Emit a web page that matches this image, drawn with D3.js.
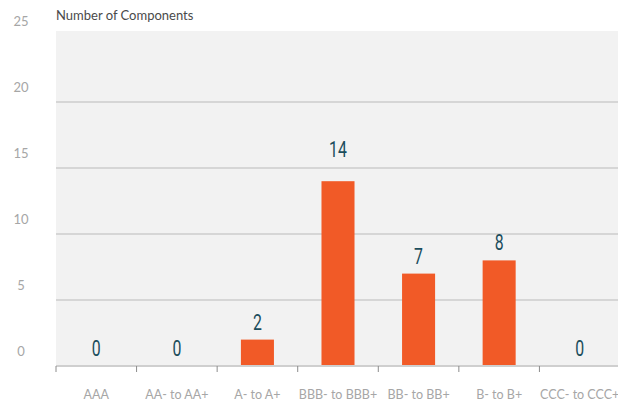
<!DOCTYPE html>
<html>
<head>
<meta charset="utf-8">
<script src="https://cdn.jsdelivr.net/npm/d3@7"></script>
<style>
    body { margin: 0; background: #fff; }
    .yLabel { font-family: Lato, "Open Sans", sans-serif; font-size: 13px; fill: #a6a6a6; }
    .xLabel { font-family: Lato, "Open Sans", sans-serif; font-size: 12.5px; fill: #a6a6a6; }
    .title { font-family: Lato, "Open Sans", sans-serif; font-size: 13px; fill: #4a4a4a; }
    .valueLabel { font-family: Roboto, "Liberation Sans", sans-serif; font-weight: 400; font-size: 22px; fill: #1b4d5c; }
</style>
</head>
<body>
<script>
//chart data
var categories = ["AAA", "AA- to AA+", "A- to A+", "BBB- to BBB+", "BB- to BB+", "B- to B+", "CCC- to CCC+"];
var counts = [0, 0, 2, 14, 7, 8, 0];
var yTicks = [0, 5, 10, 15, 20, 25];

window.onload = drawChart();

function drawChart(){
    var width = 618,
        height = 402;

    var margin = {top: 31, right: -2, bottom: 35, left: 56};

    var svg = d3.select("body")
        .append("svg")
        .attr("width", width)
        .attr("height", height);

    //scales
    var x = d3.scaleBand()
        .domain(categories)
        .range([margin.left, width - margin.right])
        .paddingInner(0.59)
        .paddingOuter(0.295);

    var y = d3.scaleLinear()
        .domain([0, 25])
        .range([height - margin.bottom - 1, 36]);

    //plot background
    svg.append("rect")
        .attr("x", margin.left)
        .attr("y", margin.top)
        .attr("width", width - margin.left)
        .attr("height", y(0) - margin.top)
        .attr("fill", "#f2f2f2");

    //gridlines (skip the top one, plot ends above it)
    var gridVals = yTicks.filter(function(d){ return d > 0 && d < 25; });
    svg.selectAll(".grid")
        .data(gridVals)
        .enter()
        .append("line")
        .attr("class", "grid")
        .attr("x1", margin.left)
        .attr("x2", width)
        .attr("y1", function(d){ return y(d); })
        .attr("y2", function(d){ return y(d); })
        .attr("stroke", "#d6d6d6")
        .attr("stroke-width", 2);

    //y tick labels sit above their lines
    svg.selectAll(".yLabel")
        .data(yTicks)
        .enter()
        .append("text")
        .attr("class", "yLabel")
        .attr("x", 21)
        .attr("y", function(d){ return y(d) - 10; })
        .attr("text-anchor", "middle")
        .text(function(d){ return d; });

    //bars (zero values still show a thin line)
    svg.selectAll(".bar")
        .data(counts)
        .enter()
        .append("rect")
        .attr("class", "bar")
        .attr("x", function(d, i){ return x(categories[i]); })
        .attr("width", x.bandwidth())
        .attr("y", function(d){ return d > 0 ? y(d) : y(0) - 1; })
        .attr("height", function(d){ return d > 0 ? y(0) - y(d) : 1; })
        .attr("fill", "#f15a27")
        .attr("opacity", function(d){ return d > 0 ? 1 : 0.6; });

    //value labels, pushed above a gridline if they would cross it
    function labelY(d){
        var base = y(d) - 10,
            top = base - 14;
        gridVals.forEach(function(g){
            var gy = y(g);
            if (gy > top && gy < base) base = gy - 11;
        });
        return base;
    };

    //condensed look: squeeze the glyphs horizontally
    svg.selectAll(".valueLabel")
        .data(counts)
        .enter()
        .append("text")
        .attr("class", "valueLabel")
        .attr("transform", function(d, i){
            return "translate(" + (x(categories[i]) + x.bandwidth() / 2) + "," + labelY(d) + ") scale(0.72,1)";
        })
        .attr("text-anchor", "middle")
        .text(function(d){ return d; });

    //x axis
    var xAxis = svg.append("g")
        .attr("transform", "translate(0," + y(0) + ")");

    xAxis.append("line")
        .attr("x1", margin.left)
        .attr("x2", width)
        .attr("stroke", "#cfcfcf")
        .attr("stroke-width", 2);

    var step = x.step();
    xAxis.selectAll(".xtick")
        .data(categories)
        .enter()
        .append("line")
        .attr("class", "xtick")
        .attr("x1", function(d){ return x(d) + x.bandwidth() / 2 - step / 2; })
        .attr("x2", function(d){ return x(d) + x.bandwidth() / 2 - step / 2; })
        .attr("y1", 0)
        .attr("y2", 6)
        .attr("stroke", "#8c8c8c");

    xAxis.selectAll(".xLabel")
        .data(categories)
        .enter()
        .append("text")
        .attr("class", "xLabel")
        .attr("x", function(d){ return x(d) + x.bandwidth() / 2; })
        .attr("y", 33)
        .attr("text-anchor", "middle")
        .text(function(d){ return d; });

    //axis title
    svg.append("text")
        .attr("class", "title")
        .attr("x", margin.left)
        .attr("y", 20)
        .text("Number of Components");
};
</script>
</body>
</html>
